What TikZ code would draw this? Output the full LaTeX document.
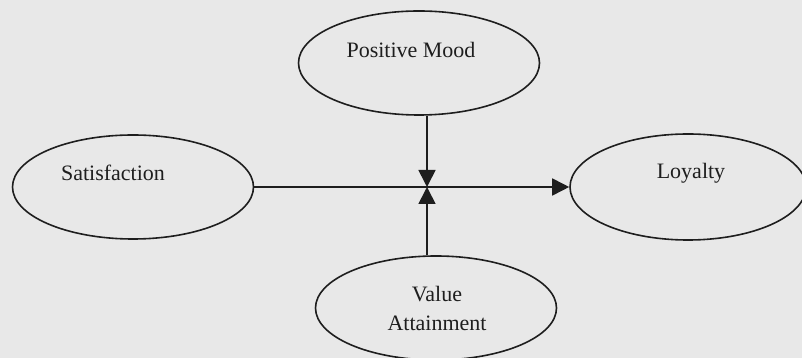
\documentclass[tikz,border=0pt]{standalone}
\usepackage{fontspec}
\setmainfont{Liberation Serif}
\usetikzlibrary{shapes.geometric,arrows.meta}
\definecolor{paper}{RGB}{232,232,232}
\definecolor{ink}{RGB}{30,30,30}
\tikzset{
    construct/.style={draw=ink, ellipse, line width=1.6pt, inner sep=0pt,
        minimum width=241pt, minimum height=104pt},
    caption/.style={text=ink, font=\fontsize{22}{29}\selectfont, align=center},
    path/.style={draw=ink, line width=1.7pt, -{Triangle[length=17pt,width=17pt]}}
}
\begin{document}
\begin{tikzpicture}[x=1pt,y=1pt]
        \fill[paper] (0,0) rectangle (802,358);  % page
        \useasboundingbox (0,0) rectangle (802,358);

        % constructs
        \node[construct, label={[caption, name=moodtxt, shift={(-8pt,13pt)}]center:Positive Mood}] (mood) at (419,295) {};
        \node[construct, label={[caption, name=sattxt, shift={(-20pt,14pt)}]center:Satisfaction}] (sat) at (133,171) {};
        \node[construct, minimum width=236pt, minimum height=106pt, label={[caption, name=loytxt, shift={(3pt,14pt)}]center:Loyalty}] (loy) at (688,171) {};
        \node[construct, label={[caption, name=valtxt, shift={(1pt,0pt)}]center:Value\\Attainment}] (val) at (436,50) {};

        \coordinate (cross) at (427,171);

        % paths
        \draw[path] (sat.east) -- (loy.west);
        \draw[path] (cross |- mood.south) -- (cross);
        \draw[path] (cross |- val.north) -- (cross);
    \end{tikzpicture}
\end{document}
